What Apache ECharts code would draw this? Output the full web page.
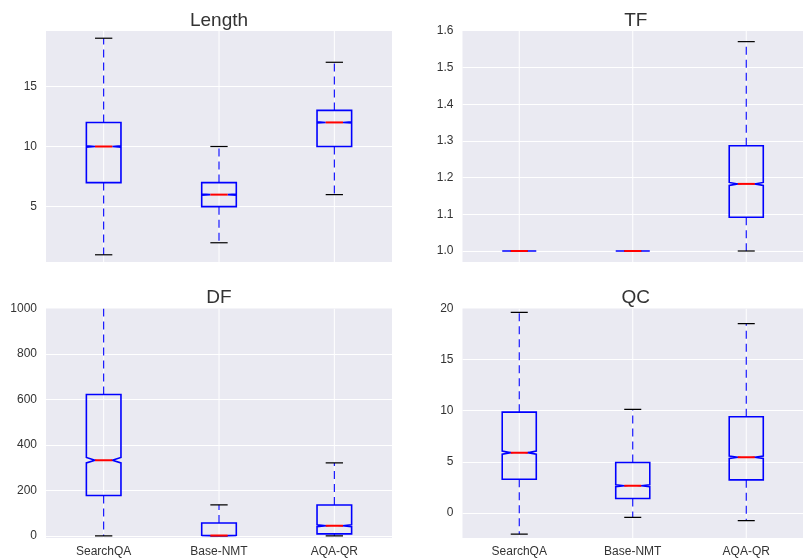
<!DOCTYPE html>
<html><head><meta charset="utf-8">
<script src="https://cdn.jsdelivr.net/npm/echarts@6/dist/echarts.min.js"></script>
<style>html,body{margin:0;padding:0;background:#fff}#c{width:803px;height:558px}</style>
</head><body><div id="c"></div>
<script>
const categories = ['SearchQA', 'Base-NMT', 'AQA-QR'];
// each row: [low whisker, Q1, median, Q3, high whisker, notch half-height]
const lengthStats = [[1, 7, 10, 12, 19, 0.06], [2, 5, 6, 7, 10, 0.04], [6, 10, 12, 13, 17, 0.05]];
const tfStats = [[1, 1, 1, 1, 1, 0], [1, 1, 1, 1, 1, 0], [1.0, 1.092, 1.183, 1.287, 1.571, 0.004]];
const dfStats = [[0, 178, 333, 622, 1100, 12], [0, 1, 2, 57, 137, 1], [0, 9, 45, 136, 321, 4]];
const qcStats = [[-2.08, 3.3, 5.9, 9.86, 19.63, 0.15], [-0.43, 1.42, 2.66, 4.93, 10.13, 0.1], [-0.75, 3.24, 5.45, 9.41, 18.53, 0.12]];
const titles = ['Length', 'TF', 'DF', 'QC'];
const yMins = [0.4, 0.97, -9, -2.45];
const yMaxs = [19.6, 1.6, 1000, 20];
const yTickSteps = [5, 0.1, 200, 5];
const yDecimals = [0, 1, 0, 0];

const panelStats = [lengthStats, tfStats, dfStats, qcStats];
const grids = [
  {left: 46, top: 31, width: 346, height: 231},
  {left: 462.5, top: 31, width: 346.5, height: 231},
  {left: 46, top: 308.5, width: 346, height: 230},
  {left: 462.5, top: 308.5, width: 346.5, height: 230}
];
const FONT = '"Liberation Sans", Arial, sans-serif';
const TXT = '#333';

function renderItem(params, api) {
  const idx = api.value(0);
  const low = api.value(1), q1 = api.value(2), med = api.value(3), q3 = api.value(4), high = api.value(5), ci = api.value(6);
  const cs = params.coordSys;
  const band = api.size([1, 0])[0];
  const cx = api.coord([idx, med])[0];
  const y = v => api.coord([idx, v])[1];
  const w = band * 0.3;
  const L = cx - w / 2, R = cx + w / 2, cl = cx - w / 4, cr = cx + w / 4;
  const ws = {stroke: '#0000ff', lineWidth: 1.1, lineDash: [8, 5], fill: null};
  const capS = {stroke: '#000', lineWidth: 1.2, fill: null};
  const ch = [];
  ch.push({type: 'line', silent: true, shape: {x1: cx, y1: cs.y, x2: cx, y2: cs.y + cs.height}, style: {stroke: '#ffffff', lineWidth: 1}});
  ch.push({type: 'line', shape: {x1: cx, y1: y(q1), x2: cx, y2: y(low)}, style: ws});
  ch.push({type: 'line', shape: {x1: cx, y1: y(q3), x2: cx, y2: y(high)}, style: ws});
  ch.push({type: 'line', shape: {x1: cl, y1: y(low), x2: cr, y2: y(low)}, style: capS});
  ch.push({type: 'line', shape: {x1: cl, y1: y(high), x2: cr, y2: y(high)}, style: capS});
  const pts = [[L, y(q1)], [R, y(q1)], [R, y(med - ci)], [cr, y(med)], [R, y(med + ci)], [R, y(q3)],
               [L, y(q3)], [L, y(med + ci)], [cl, y(med)], [L, y(med - ci)]];
  ch.push({type: 'polygon', shape: {points: pts}, style: {fill: 'none', stroke: '#0000ff', lineWidth: 1.6}});
  ch.push({type: 'line', shape: {x1: cl, y1: y(med), x2: cr, y2: y(med)}, style: {stroke: '#ff0000', lineWidth: 2}});
  return {type: 'group', children: ch};
}

const option = {
  animation: false,
  backgroundColor: '#ffffff',
  textStyle: {fontFamily: FONT},
  title: titles.map((t, i) => ({
    text: t,
    left: grids[i].left + grids[i].width / 2,
    top: grids[i].top - 20,
    textAlign: 'center',
    padding: 0,
    textStyle: {fontSize: 19, fontWeight: 'normal', color: TXT, fontFamily: FONT}
  })),
  grid: grids.map(g => Object.assign({show: true, backgroundColor: '#EAEAF2', borderWidth: 0, containLabel: false}, g)),
  xAxis: grids.map((g, i) => ({
    type: 'category', gridIndex: i, data: categories, boundaryGap: true,
    axisLine: {show: false}, axisTick: {show: false}, splitLine: {show: false},
    axisLabel: {show: i >= 2, color: TXT, fontSize: 12, margin: 8, fontFamily: FONT}
  })),
  yAxis: grids.map((g, i) => ({
    type: 'value', gridIndex: i, min: yMins[i], max: yMaxs[i],
    splitNumber: i === 1 ? 6 : (i === 2 ? 5 : 4),
    axisLine: {show: false}, axisTick: {show: false},
    splitLine: {show: true, showMinLine: false, showMaxLine: false, lineStyle: {color: '#ffffff', width: 1}},
    axisLabel: {
      color: TXT, fontSize: 12, margin: 9, fontFamily: FONT,
      formatter: v => {
        const r = v / yTickSteps[i];
        if (Math.abs(r - Math.round(r)) > 1e-6) return '';
        return (Math.round(r) * yTickSteps[i]).toFixed(yDecimals[i]);
      }
    }
  })),
  series: panelStats.map((stats, i) => ({
    type: 'custom', xAxisIndex: i, yAxisIndex: i, clip: true,
    renderItem: renderItem,
    encode: {x: 0, y: [1, 2, 3, 4, 5]},
    data: stats.map((s, k) => [k].concat(s))
  }))
};
const chart = echarts.init(document.getElementById('c'), null, {renderer: 'canvas'});
chart.setOption(option);
</script></body></html>
